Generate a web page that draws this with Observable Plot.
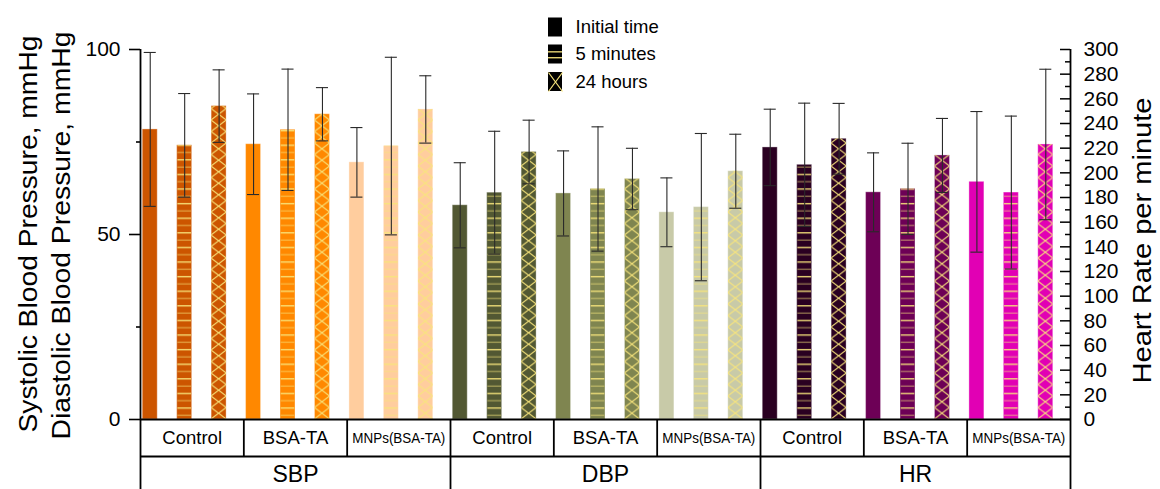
<!DOCTYPE html>
<html><head><meta charset="utf-8">
<script src="https://cdn.jsdelivr.net/npm/d3@7"></script>
<script src="https://cdn.jsdelivr.net/npm/@observablehq/plot@0.6"></script>
<style>html,body{margin:0;padding:0;background:#fff}svg{display:block}</style>
</head><body><div id="chart"></div>
<script>
// ---------------- data ----------------
const groups = ["SBP", "DBP", "HR"];
const treatments = ["Control", "BSA-TA", "MNPs(BSA-TA)"];
const times = ["Initial time", "5 minutes", "24 hours"];

// values per treatment x time (Control: initial, 5 min, 24 h; BSA-TA: ...; MNPs: ...)
const sbpMean = [78.4, 74.1, 84.7, 74.4, 78.3, 82.5, 69.5, 73.9, 83.8];
const sbpErr  = [20.8, 14.0, 9.8, 13.6, 16.4, 7.2, 9.4, 24.0, 9.1];
const dbpMean = [57.9, 61.3, 72.3, 61.1, 62.3, 65.0, 56.0, 57.4, 67.1];
const dbpErr  = [11.5, 16.6, 8.6, 11.5, 16.8, 8.3, 9.3, 19.9, 10.0];
const hrMean  = [220.6, 206.5, 227.6, 184.2, 187.0, 214.1, 192.7, 184.0, 223.0];
const hrErr   = [31, 50, 28.7, 32, 37, 30, 57, 62, 61];

const treatmentColors = {
  SBP: ["#CC5500", "#FF8800", "#FFCD9E"],
  DBP: ["#525833", "#7F8550", "#C8CAA8"],
  HR:  ["#2A0021", "#6D0056", "#E100B4"]
};

const leftTicks = [0, 50, 100];
const leftMinorTicks = [25, 75];
const hrTicks = [0, 20, 40, 60, 80, 100, 120, 140, 160, 180, 200, 220, 240, 260, 280, 300];
const hrMinorTicks = [10, 30, 50, 70, 90, 110, 130, 150, 170, 190, 210, 230, 250, 270, 290];
const hrMax = 300, leftMax = 100;

const leftTitles = ["Systolic Blood Pressure, mmHg", "Diastolic Blood Pressure, mmHg"];
const rightTitle = "Heart Rate per minute";

// ---------------- layout ----------------
const W = 1160, H = 489, mL = 140, mR = 90, mT = 49, mB = 70;
const nBars = groups.length * treatments.length * times.length;
const xUnit = (W - mL - mR) / nBars;
const yUnit = (H - mT - mB) / leftMax;
const px2x = px => (px - mL) / xUnit;
const py2y = py => (H - mB - py) / yUnit;
const barOff = 0.065, barW = 0.435, capHalf = 0.175;
const hatchColor = "#F8E57C";

const means = {SBP: sbpMean, DBP: dbpMean, HR: hrMean};
const errs = {SBP: sbpErr, DBP: dbpErr, HR: hrErr};
const rows = [];
groups.forEach((g, gi) => treatments.forEach((t, ti) => times.forEach((s, si) => {
  const k = ti * 3 + si;
  const f = g === "HR" ? leftMax / hrMax : 1;
  rows.push({group: g, treatment: t, time: s, i: gi * 9 + ti * 3 + si,
    v: means[g][k] * f, e: errs[g][k] * f, color: treatmentColors[g][ti]});
})));
const cx = d => d.i + barOff + barW / 2;

const cellLabels = groups.flatMap((g, gi) => treatments.map((t, ti) => ({label: t, x: gi * 9 + ti * 3 + 1.5})));
const groupLabels = groups.map((g, gi) => ({label: g, x: gi * 9 + 4.5}));

const tableY1 = py2y(456), tableBottom = py2y(489);
const rowY1 = py2y(437.5), rowY2 = py2y(474);

// legend layout
const legRowsPx = [27, 54, 81.5];
const legend = times.map((t, k) => ({label: t, k,
  x1: px2x(548), x2: px2x(562), y1: py2y(legRowsPx[k] + 9.5), y2: py2y(legRowsPx[k] - 9.5),
  ty: py2y(legRowsPx[k]), tx: px2x(575)}));

// rotated titles: [text, x offset from frame edge, span length, bottom end offset from frame middle]
const titleLen = {[leftTitles[0]]: 397, [leftTitles[1]]: 408, [rightTitle]: 286};

function patternDefs(index, scales) {
  const defs = d3.create("svg:defs");
  const x0 = scales.x(barOff);
  const step = scales.x(1) - scales.x(0);
  const bw = scales.x(barOff + barW) - x0;
  const yb = scales.y(0);
  const hl = defs.append("pattern").attr("id", "hl").attr("patternUnits", "userSpaceOnUse")
    .attr("x", 0).attr("y", yb).attr("width", 60).attr("height", 14.6);
  hl.append("rect").attr("x", 0).attr("y", 3).attr("width", 60).attr("height", 1.3).attr("fill", hatchColor);
  hl.append("rect").attr("x", 0).attr("y", 10.3).attr("width", 60).attr("height", 1.3).attr("fill", hatchColor).attr("fill-opacity", 0.5);
  const h = 11.5;
  const xh = defs.append("pattern").attr("id", "xh").attr("patternUnits", "userSpaceOnUse")
    .attr("x", x0).attr("y", yb).attr("width", step).attr("height", h);
  xh.append("path").attr("d", `M0,0L${bw},${h}M${bw},0L0,${h}`)
    .attr("stroke", hatchColor).attr("stroke-width", 1).attr("fill", "none");
  return defs.node();
}

const plot = Plot.plot({
  width: W, height: H,
  marginLeft: mL, marginRight: mR, marginTop: mT, marginBottom: mB,
  x: {type: "linear", domain: [0, nBars], axis: null},
  y: {domain: [0, leftMax], axis: null},
  color: {type: "identity"},
  style: {fontFamily: "'Liberation Sans', Arial, sans-serif", fontSize: "21px", color: "black", background: "white", overflow: "visible"},
  marks: [
    patternDefs,
    // bars
    Plot.rectY(rows, {x1: d => d.i + barOff, x2: d => d.i + barOff + barW, y1: 0, y2: "v",
      fill: "color", stroke: "white", strokeOpacity: 0.35, strokeWidth: 1}),
    Plot.rectY(rows.filter(d => d.time === times[1]), {x1: d => d.i + barOff + 0.02, x2: d => d.i + barOff + barW - 0.02, y1: 0, y2: "v", fill: "url(#hl)"}),
    Plot.rectY(rows.filter(d => d.time === times[2]), {x1: d => d.i + barOff, x2: d => d.i + barOff + barW, y1: 0, y2: "v", fill: "url(#xh)"}),
    // error bars
    Plot.ruleX(rows, {x: cx, y1: d => d.v - d.e, y2: d => d.v + d.e, stroke: "#2a2a2a", strokeWidth: 1.1}),
    Plot.ruleY(rows, {y: d => d.v + d.e, x1: d => cx(d) - capHalf, x2: d => cx(d) + capHalf, stroke: "#2a2a2a", strokeWidth: 1.1}),
    Plot.ruleY(rows, {y: d => d.v - d.e, x1: d => cx(d) - capHalf, x2: d => cx(d) + capHalf, stroke: "#2a2a2a", strokeWidth: 1.1}),
    // left axis
    Plot.axisY(leftTicks, {anchor: "left", tickSize: 11, tickPadding: 9, fontSize: 21, strokeWidth: 1.6, label: null}),
    Plot.axisY(leftMinorTicks, {anchor: "left", tickSize: 4, tickFormat: () => "", strokeWidth: 1.6, label: null}),
    // right axis (heart rate, 0–300 mapped onto 0–100)
    Plot.axisY(hrTicks.map(d => d * leftMax / hrMax), {anchor: "right", tickSize: 0, tickPadding: 13, fontSize: 21,
      tickFormat: d => Math.round(d * hrMax / leftMax), label: null}),
    Plot.ruleY(hrTicks, {y: d => d * leftMax / hrMax, x1: nBars - 10 / xUnit, x2: nBars, strokeWidth: 1.5}),
    Plot.ruleY(hrMinorTicks, {y: d => d * leftMax / hrMax, x1: nBars - 5 / xUnit, x2: nBars, strokeWidth: 1.5}),
    // axis lines and category table
    Plot.ruleX([0, nBars], {y1: leftMax, y2: tableBottom, strokeWidth: 1.8}),
    Plot.ruleY([0, tableY1], {x1: 0, x2: nBars, strokeWidth: 1.8}),
    Plot.ruleX(d3.range(3, nBars, 3), {y1: 0, y2: tableY1, strokeWidth: 1.8}),
    Plot.ruleX(d3.range(9, nBars, 9), {y1: tableY1, y2: tableBottom, strokeWidth: 1.8}),
    Plot.text(cellLabels, {x: "x", y: rowY1, text: "label", fontSize: d => d.label === treatments[2] ? 14.5 : 18.5}),
    Plot.text(groupLabels, {x: "x", y: rowY2, text: "label", fontSize: 23}),
    // axis titles (anchored at their lower end, running upward)
    Plot.text([leftTitles[0]], {frameAnchor: "left", dx: -112, dy: 198, rotate: -90, textAnchor: "start", fontSize: 25, text: d => d}),
    Plot.text([leftTitles[1]], {frameAnchor: "left", dx: -79, dy: 205, rotate: -90, textAnchor: "start", fontSize: 25, text: d => d}),
    Plot.text([rightTitle], {frameAnchor: "right", dx: 72, dy: 149, rotate: -90, textAnchor: "start", fontSize: 25, text: d => d}),
    // legend
    Plot.rect(legend, {x1: "x1", x2: "x2", y1: "y1", y2: "y2", fill: "black"}),
    Plot.ruleY(legend.filter(d => d.k === 1), {y: d => d.y1 + (d.y2 - d.y1) * 0.64, x1: "x1", x2: "x2", stroke: hatchColor, strokeWidth: 1.3}),
    Plot.ruleY(legend.filter(d => d.k === 1), {y: d => d.y1 + (d.y2 - d.y1) * 0.33, x1: "x1", x2: "x2", stroke: hatchColor, strokeWidth: 1.3}),
    Plot.link(legend.filter(d => d.k === 2), {x1: "x1", y1: "y1", x2: "x2", y2: "y2", stroke: hatchColor, strokeWidth: 1.2}),
    Plot.link(legend.filter(d => d.k === 2), {x1: "x1", y1: "y2", x2: "x2", y2: "y1", stroke: hatchColor, strokeWidth: 1.2}),
    Plot.text(legend, {x: "tx", y: "ty", text: "label", textAnchor: "start", fontSize: 18.5})
  ]
});

const sel = d3.select(plot);
sel.selectAll("text").filter(function() { return this.textContent === treatments[2]; })
  .attr("textLength", 93).attr("lengthAdjust", "spacingAndGlyphs");
sel.selectAll("text").filter(function() { return titleLen[this.textContent] != null; })
  .each(function() { d3.select(this).attr("textLength", titleLen[this.textContent]).attr("lengthAdjust", "spacingAndGlyphs"); });

document.getElementById("chart").appendChild(plot);
</script>
</body></html>
